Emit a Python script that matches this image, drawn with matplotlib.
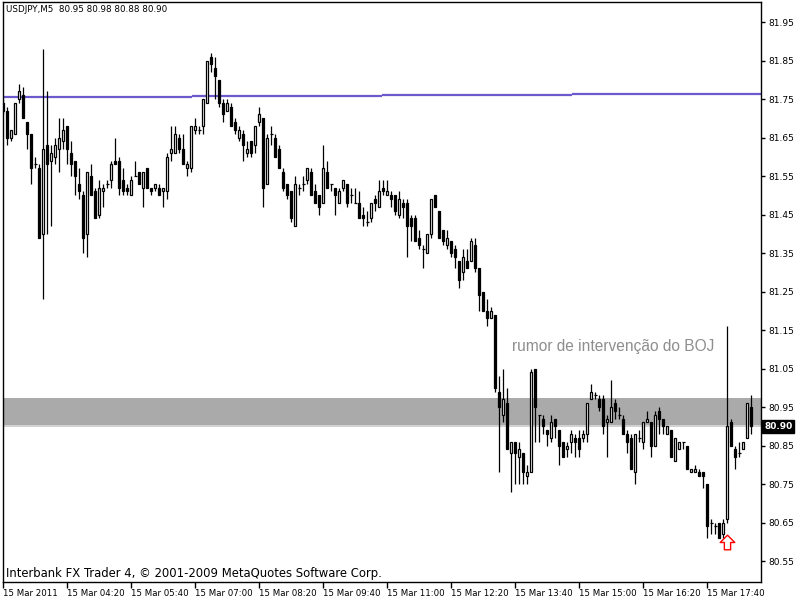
import numpy as np
import matplotlib
matplotlib.use('Agg')
import matplotlib.pyplot as plt
from matplotlib.path import Path
from matplotlib.transforms import blended_transform_factory

# USDJPY M5 candles, 15 Mar 2011
opens = [81.74,81.72,81.65,81.66,81.75,81.76,81.69,81.66,81.58,81.57,
         81.40,81.63,81.59,81.60,81.62,81.64,81.68,81.61,81.59,81.53,
         81.50,81.40,81.55,81.51,81.45,81.51,81.53,81.54,81.59,81.59,
         81.54,81.52,81.50,81.55,81.56,81.52,81.57,81.52,81.52,81.52,
         81.51,81.51,81.61,81.61,81.65,81.62,81.57,81.57,81.67,81.67,
         81.68,81.74,81.86,81.83,81.80,81.74,81.72,81.73,81.69,81.65,
         81.66,81.61,81.64,81.63,81.69,81.70,81.53,81.66,81.65,81.62,
         81.56,81.53,81.51,81.42,81.52,81.53,81.54,81.56,81.51,81.50,
         81.48,81.56,81.53,81.52,81.48,81.52,81.53,81.50,81.48,81.48,
         81.45,81.43,81.44,81.49,81.47,81.52,81.50,81.50,81.50,81.45,
         81.48,81.48,81.44,81.44,81.39,81.36,81.35,81.40,81.50,81.46,
         81.41,81.37,81.38,81.36,81.33,81.30,81.33,81.33,81.37,81.31,
         81.25,81.20,81.18,81.19,80.99,80.93,80.96,80.83,80.86,80.82,
         80.83,80.77,80.78,81.05,80.93,80.92,80.89,80.87,80.92,80.89,
         80.86,80.84,80.86,80.87,80.87,80.87,80.88,80.97,80.98,80.97,
         80.97,80.91,80.91,80.96,80.93,80.92,80.88,80.87,80.78,80.87,
         80.86,80.91,80.91,80.85,80.94,80.92,80.88,80.89,80.81,80.84,
         80.86,80.85,80.78,80.78,80.78,80.78,80.75,80.65,80.64,80.65,
         80.62,80.66,80.91,80.84,80.83,80.84,80.87,80.95]
closes = [81.72,81.65,81.67,81.74,81.77,81.70,81.66,81.57,81.58,81.39,
          81.62,81.58,81.61,81.63,81.65,81.67,81.62,81.58,81.55,81.51,
          81.39,81.56,81.50,81.44,81.52,81.52,81.53,81.58,81.58,81.52,
          81.51,81.51,81.54,81.55,81.53,81.56,81.52,81.51,81.53,81.50,
          81.52,81.60,81.62,81.66,81.62,81.58,81.58,81.68,81.68,81.67,
          81.75,81.85,81.84,81.81,81.74,81.71,81.74,81.68,81.67,81.67,
          81.63,81.62,81.61,81.68,81.71,81.52,81.65,81.66,81.60,81.57,
          81.52,81.50,81.44,81.53,81.52,81.53,81.57,81.50,81.48,81.47,
          81.57,81.52,81.53,81.50,81.51,81.54,81.48,81.50,81.48,81.44,
          81.44,81.43,81.48,81.48,81.51,81.51,81.51,81.49,81.46,81.49,
          81.47,81.42,81.42,81.38,81.37,81.36,81.40,81.49,81.47,81.39,
          81.38,81.39,81.35,81.34,81.28,81.34,81.31,81.38,81.31,81.24,
          81.20,81.18,81.20,81.00,80.95,80.97,80.84,80.86,80.83,80.84,
          80.78,80.78,81.04,80.95,80.93,80.90,80.88,80.91,80.90,80.85,
          80.82,80.85,80.88,80.86,80.84,80.88,80.96,80.99,80.98,80.95,
          80.90,80.92,80.95,80.94,80.93,80.88,80.86,80.79,80.88,80.87,
          80.91,80.92,80.85,80.93,80.92,80.90,80.90,80.82,80.87,80.86,
          80.86,80.79,80.79,80.79,80.77,80.77,80.64,80.65,80.64,80.61,
          80.65,80.90,80.85,80.82,80.83,80.86,80.96,80.90]
highs = [81.75,81.73,81.67,81.74,81.79,81.78,81.69,81.66,81.60,81.58,
         81.88,81.77,81.63,81.65,81.70,81.70,81.68,81.64,81.59,81.57,
         81.51,81.56,81.58,81.52,81.54,81.53,81.54,81.59,81.65,81.60,
         81.57,81.53,81.55,81.59,81.56,81.56,81.57,81.52,81.53,81.53,
         81.52,81.61,81.68,81.68,81.66,81.66,81.59,81.68,81.70,81.68,
         81.75,81.85,81.87,81.86,81.80,81.75,81.75,81.74,81.70,81.68,
         81.67,81.64,81.64,81.68,81.73,81.70,81.66,81.68,81.66,81.63,
         81.57,81.53,81.51,81.55,81.53,81.55,81.57,81.57,81.53,81.50,
         81.63,81.59,81.53,81.52,81.52,81.54,81.53,81.52,81.52,81.51,
         81.47,81.46,81.48,81.50,81.54,81.54,81.54,81.51,81.50,81.51,
         81.49,81.49,81.45,81.45,81.41,81.37,81.40,81.49,81.50,81.46,
         81.41,81.41,81.38,81.37,81.33,81.36,81.36,81.39,81.39,81.31,
         81.25,81.23,81.21,81.19,81.03,81.05,81.00,80.86,80.86,80.86,
         80.83,80.80,81.05,81.05,80.93,80.93,80.89,80.93,80.92,80.89,
         80.86,80.86,80.89,80.88,80.89,80.89,80.96,81.01,80.99,80.98,
         80.98,80.93,81.02,80.97,80.95,80.93,80.89,80.88,80.88,80.89,
         80.91,80.94,80.91,80.94,80.95,80.92,80.90,80.89,80.87,80.86,
         80.86,80.85,80.79,80.80,80.79,80.78,80.75,80.66,80.65,80.65,
         80.66,81.16,80.92,80.85,80.86,80.86,80.96,80.98]
lows = [81.71,81.63,81.64,81.66,81.74,81.70,81.62,81.53,81.57,81.39,
        81.23,81.40,81.42,81.58,81.56,81.62,81.58,81.55,81.50,81.49,
        81.35,81.34,81.50,81.44,81.44,81.47,81.52,81.52,81.58,81.50,
        81.50,81.50,81.50,81.55,81.53,81.47,81.52,81.50,81.51,81.50,
        81.47,81.49,81.59,81.61,81.61,81.58,81.55,81.56,81.66,81.66,
        81.66,81.74,81.82,81.75,81.73,81.69,81.72,81.68,81.66,81.64,
        81.59,81.60,81.60,81.61,81.68,81.47,81.53,81.63,81.60,81.57,
        81.51,81.49,81.43,81.42,81.50,81.51,81.53,81.50,81.48,81.45,
        81.48,81.52,81.51,81.45,81.48,81.51,81.47,81.48,81.48,81.44,
        81.42,81.42,81.43,81.46,81.47,81.50,81.50,81.47,81.45,81.44,
        81.44,81.34,81.38,81.38,81.36,81.31,81.35,81.39,81.47,81.39,
        81.37,81.36,81.34,81.31,81.26,81.28,81.31,81.33,81.30,81.20,
        81.20,81.16,81.18,80.99,80.78,80.91,80.84,80.73,80.75,80.75,
        80.75,80.75,80.78,80.86,80.86,80.88,80.85,80.86,80.87,80.80,
        80.82,80.82,80.83,80.82,80.82,80.86,80.86,80.97,80.97,80.94,
        80.88,80.82,80.91,80.92,80.92,80.88,80.83,80.79,80.75,80.86,
        80.84,80.91,80.82,80.85,80.88,80.88,80.88,80.82,80.81,80.84,
        80.84,80.79,80.78,80.78,80.77,80.74,80.61,80.62,80.62,80.61,
        80.61,80.65,80.85,80.79,80.82,80.84,80.87,80.88]

# stepped blue level line (bar where each step starts, level)
level_starts = [0, 47.2, 94.7, 142.2]
level_values = [81.756, 81.758, 81.760, 81.762]

band_low, band_high = 80.902, 80.973
bid = 80.90

xtick_bars = np.arange(0, 177, 16)
xtick_labels = ['15 Mar 2011', '15 Mar 04:20', '15 Mar 05:40', '15 Mar 07:00',
                '15 Mar 08:20', '15 Mar 09:40', '15 Mar 11:00', '15 Mar 12:20',
                '15 Mar 13:40', '15 Mar 15:00', '15 Mar 16:20', '15 Mar 17:40']
ytick_values = np.round(np.arange(80.55, 81.96, 0.10), 2)

o = np.array(opens); c = np.array(closes)
h = np.array(highs); l = np.array(lows)
x = np.arange(len(o))

fig = plt.figure(figsize=(8, 6), dpi=100)
ax = fig.add_axes([3/800, 18/600, 758/800, 580/600])
ax.set_xlim(-0.075, 189.425)
ax.set_ylim(80.4955, 82.002)

# grey zone + bid line
ax.axhspan(band_low, band_high, color='#aaaaaa', lw=0, zorder=1)
ax.axhline(bid, color='#c8c8c8', lw=1.2, zorder=1)

# blue stepped line
sx = level_starts + [189.5]
for k in range(len(level_values)):
    ax.plot([sx[k], sx[k+1]], [level_values[k]]*2, color='#6a5acd', lw=1.6, zorder=2,
            solid_capstyle='butt')

# candles
ax.vlines(x, l, h, color='black', lw=0.9, zorder=3)
up = c > o
down = c < o
flat = c == o
ax.bar(x[up], (c - o)[up], bottom=o[up], width=0.58, facecolor='white',
       edgecolor='black', lw=0.9, zorder=4)
ax.bar(x[down], (o - c)[down], bottom=c[down], width=0.58, facecolor='black',
       edgecolor='black', lw=0.9, zorder=4)
ax.hlines(o[flat], x[flat] - 0.4, x[flat] + 0.4, color='black', lw=0.9, zorder=4)

ax.text(127.2, 81.108, 'rumor de intervenção do BOJ', color='#8e8e8e',
        fontsize=11.2, family='Liberation Sans', va='center', ha='left')

# red hollow arrow below the spike
arrow = Path([(-0.3, -0.7), (0.3, -0.7), (0.3, 0.0), (0.7, 0.0), (0, 0.7),
              (-0.7, 0.0), (-0.3, 0.0), (-0.3, -0.7)], closed=True)
ax.plot([181], [80.599], marker=arrow, markersize=10.5, markerfacecolor='white',
        markeredgecolor='red', markeredgewidth=1, zorder=5)

ax.text(0.004, 1 - 3/580, 'USDJPY,M5  80.95 80.98 80.88 80.90', transform=ax.transAxes,
        fontsize=6.3, va='top', ha='left')
ax.text(0.004, 0.003, 'Interbank FX Trader 4, © 2001-2009 MetaQuotes Software Corp.',
        transform=ax.transAxes, fontsize=8.4, va='bottom', ha='left')

# bid price label
trans = blended_transform_factory(ax.transAxes, ax.transData)
ax.text(1.004, bid, '80.90', transform=trans, color='white', fontsize=6.5,
        va='center', ha='left', fontweight='bold',
        bbox=dict(facecolor='black', edgecolor='black', pad=1.5))

ax.yaxis.tick_right()
ax.set_yticks(ytick_values)
ax.set_yticklabels(['%.2f' % v for v in ytick_values])
ax.set_xticks(xtick_bars)
ax.set_xticklabels(xtick_labels, ha='left')
ax.tick_params(axis='y', length=3, width=1, pad=2, labelsize=6.5)
ax.tick_params(axis='x', length=4, width=1, pad=1, labelsize=6.2)
for s in ax.spines.values():
    s.set_linewidth(1)

plt.savefig('out.png', dpi=100)
